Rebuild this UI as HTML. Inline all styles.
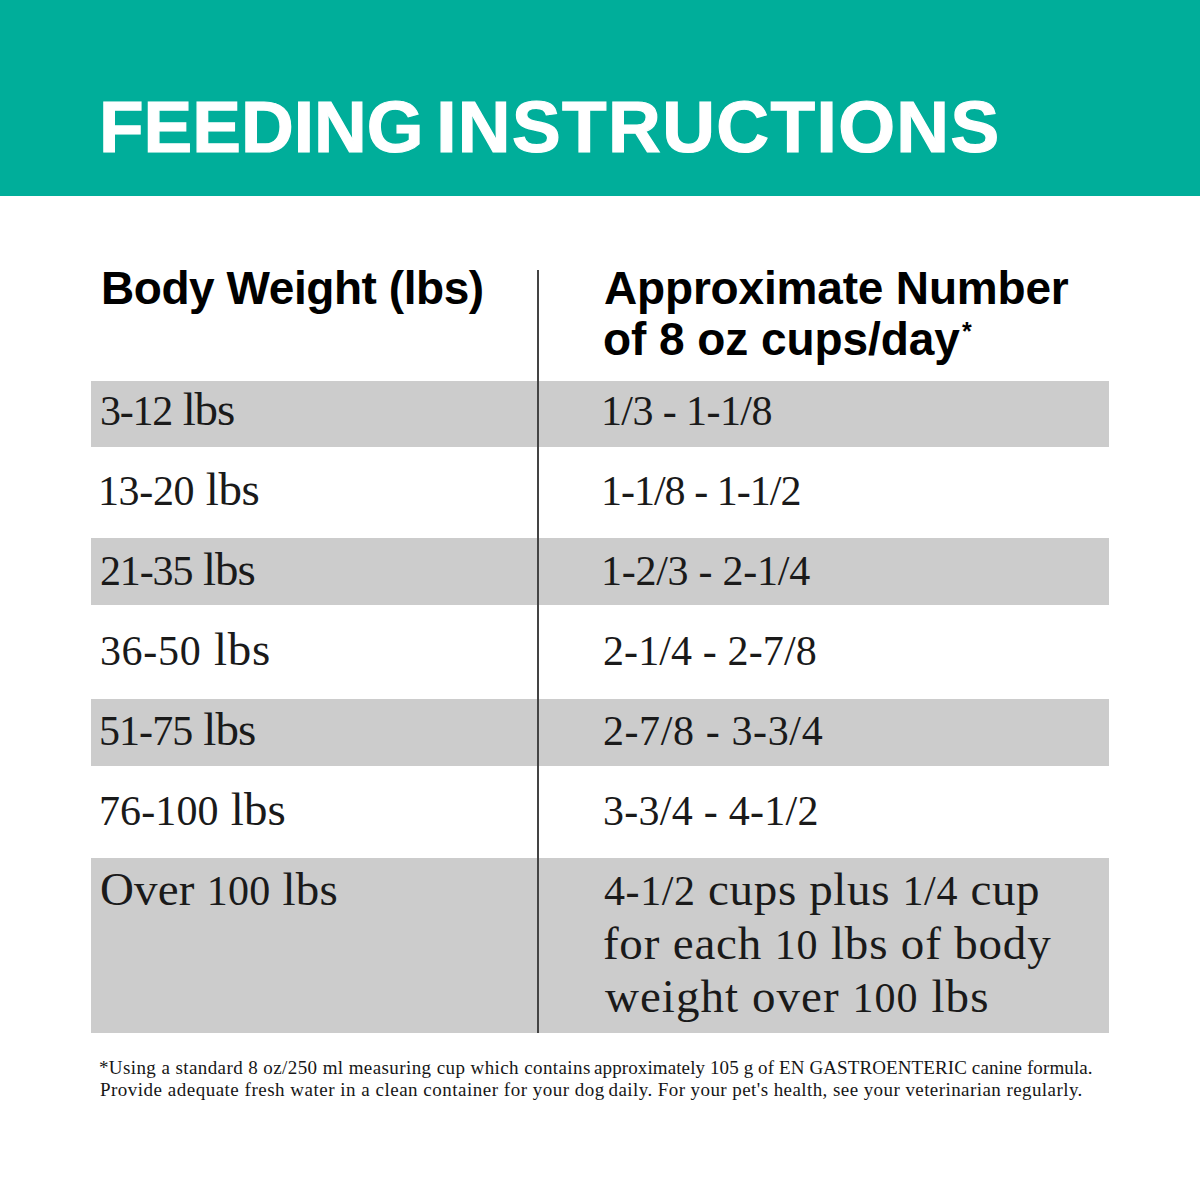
<!DOCTYPE html>
<html>
<head>
<meta charset="utf-8">
<style>
html,body{margin:0;padding:0;}
body{width:1200px;height:1200px;position:relative;overflow:hidden;background:#fff;}
.hdr{position:absolute;left:0;top:0;width:1200px;height:196px;background:#00ae9a;}
.t{position:absolute;white-space:nowrap;line-height:1;}
.title{font-family:"Liberation Sans",sans-serif;font-weight:bold;color:#fff;font-size:73px;-webkit-text-stroke:1.2px #fff;}
.h{font-family:"Liberation Sans",sans-serif;font-weight:bold;color:#000;font-size:46px;}
.r{font-family:"Liberation Serif",serif;color:#1a1a1a;font-size:44px;}
.f{font-family:"Liberation Serif",serif;color:#161616;font-size:19px;}
.band{position:absolute;left:91px;width:1018px;background:#cccccc;}
.vline{position:absolute;left:537px;top:270px;width:2px;height:763px;background:#444;}
.ast{position:absolute;font-family:"Liberation Sans",sans-serif;font-weight:bold;font-size:25px;color:#000;line-height:1;}
.d{font-size:42px;}
.pb{display:inline-block;width:0;height:0;}
</style>
</head>
<body>
<div class="hdr"></div>
<div class="band" style="top:381px;height:66px;"></div>
<div class="band" style="top:538px;height:67px;"></div>
<div class="band" style="top:699px;height:67px;"></div>
<div class="band" style="top:858px;height:175px;"></div>
<div class="vline"></div>
<div class="ast" style="left:962px;top:319px;">*</div>
<div class="t title" style="left:99.0px;top:90.0px;letter-spacing:0.004px;">FEEDING</div>
<div class="t title" style="left:436.2px;top:90.0px;letter-spacing:1.405px;">INSTRUCTIONS</div>
<div class="t h" style="left:101.0px;top:264.75px;letter-spacing:-0.438px;">Body Weight (lbs)</div>
<div class="t h" style="left:604.0px;top:264.8px;letter-spacing:-0.176px;">Approximate Number</div>
<div class="t h" style="left:603.0px;top:315.5px;letter-spacing:-0.067px;">of 8 oz cups/day</div>
<div class="t r" style="left:99.9px;top:385.71px;letter-spacing:-1.183px;font-size:47px;"><span class="d">3-12</span> lbs</div>
<div class="t r" style="left:97.9px;top:465.6px;letter-spacing:-0.325px;font-size:47px;"><span class="d">13-20</span> lbs</div>
<div class="t r" style="left:99.9px;top:545.6px;letter-spacing:-1.100px;font-size:47px;"><span class="d">21-35</span> lbs</div>
<div class="t r" style="left:99.9px;top:625.9px;letter-spacing:0.722px;font-size:47px;"><span class="d">36-50</span> lbs</div>
<div class="t r" style="left:98.9px;top:705.9px;letter-spacing:-0.900px;font-size:47px;"><span class="d">51-75</span> lbs</div>
<div class="t r" style="left:98.9px;top:785.6px;letter-spacing:0.149px;font-size:47px;"><span class="d">76-100</span> lbs</div>
<div class="t r" style="left:99.9px;top:865.6px;letter-spacing:0.225px;font-size:47px;">Over <span class="d">100</span> lbs</div>
<div class="t r" style="left:600.9px;top:385.71px;letter-spacing:-0.580px;font-size:47px;"><span class="d">1/3 - 1-1/8</span></div>
<div class="t r" style="left:600.9px;top:465.6px;letter-spacing:-0.983px;font-size:47px;"><span class="d">1-1/8 - 1-1/2</span></div>
<div class="t r" style="left:600.9px;top:545.6px;letter-spacing:-0.250px;font-size:47px;"><span class="d">1-2/3 - 2-1/4</span></div>
<div class="t r" style="left:602.9px;top:625.9px;letter-spacing:0.127px;font-size:47px;"><span class="d">2-1/4 - 2-7/8</span></div>
<div class="t r" style="left:602.9px;top:705.9px;letter-spacing:0.620px;font-size:47px;"><span class="d">2-7/8 - 3-3/4</span></div>
<div class="t r" style="left:602.9px;top:785.6px;letter-spacing:0.273px;font-size:47px;"><span class="d">3-3/4 - 4-1/2</span></div>
<div class="t r" style="left:603.9px;top:865.8px;letter-spacing:0.636px;font-size:47px;"><span class="d">4-1/2</span> cups plus <span class="d">1/4</span> cup</div>
<div class="t r" style="left:602.9px;top:919.5px;letter-spacing:0.824px;font-size:47px;">for each <span class="d">10</span> lbs of body</div>
<div class="t r" style="left:604.9px;top:973.1px;letter-spacing:1.055px;font-size:47px;">weight over <span class="d">100</span> lbs</div>
<div class="t f" style="left:98.9px;top:1058.0px;letter-spacing:0.411px;">*Using a standard 8 oz/250 ml measuring cup which contains</div>
<div class="t f" style="left:594.0px;top:1058.0px;letter-spacing:0.106px;">approximately 105 g of EN GASTROENTERIC canine formula.</div>
<div class="t f" style="left:99.9px;top:1079.6px;letter-spacing:0.503px;">Provide adequate fresh water in a clean container for your dog</div>
<div class="t f" style="left:608.5px;top:1079.6px;letter-spacing:0.426px;">daily. For your pet's health, see your veterinarian regularly.</div>
</body>
</html>
